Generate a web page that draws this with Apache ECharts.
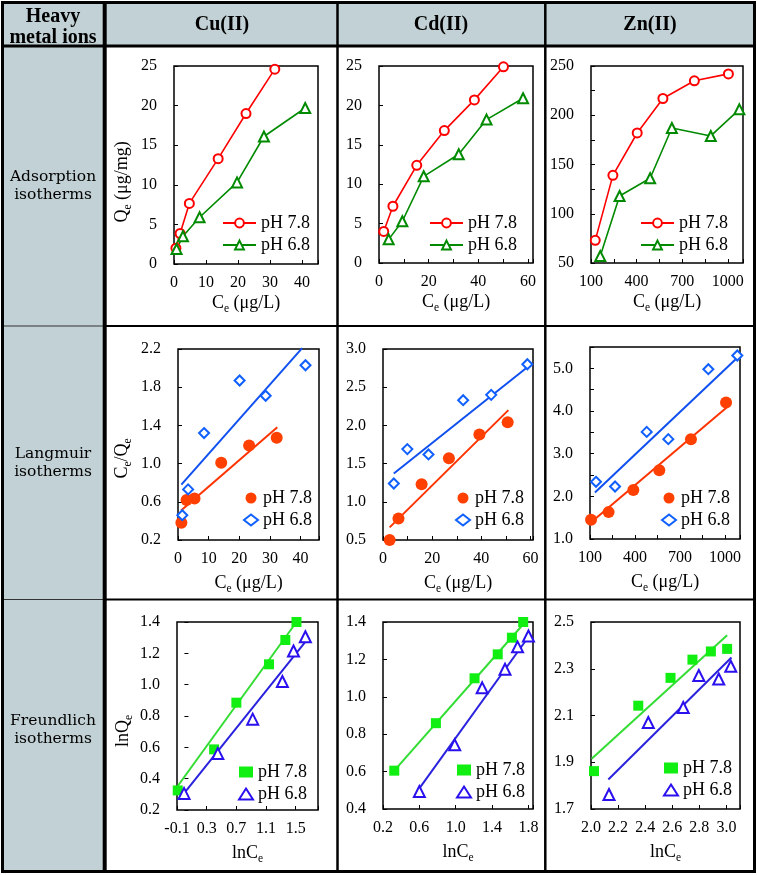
<!DOCTYPE html>
<html><head><meta charset="utf-8">
<script src="https://cdn.jsdelivr.net/npm/echarts@6/dist/echarts.min.js"></script>
<style>html,body{margin:0;padding:0;background:#fff}#c{width:757px;height:875px}</style>
</head><body><div id="c"></div>
<script>
// ---------- data ----------
const columnTitles = ['Cu(II)', 'Cd(II)', 'Zn(II)'];
const rowTitles = ['Adsorption\nisotherms', 'Langmuir\nisotherms', 'Freundlich\nisotherms'];
const legendNames = ['pH 7.8', 'pH 6.8'];

// Adsorption isotherms [Ce, Qe]
const cuAds78 = [[0.6,2.0],[1.9,3.85],[4.8,7.65],[13.8,13.3],[22.5,19.0],[31.5,24.6]];
const cuAds68 = [[0.8,1.9],[2.8,3.5],[8.0,5.9],[19.7,10.3],[28.1,16.1],[41.0,19.7]];
const cdAds78 = [[1.9,4.0],[5.6,7.2],[15.2,12.4],[26.3,16.8],[38.4,20.7],[50.1,24.9]];
const cdAds68 = [[3.9,3.0],[9.4,5.3],[18.0,11.0],[32.1,13.8],[43.3,18.2],[58.0,20.9]];
const znAds78 = [[128,73],[244,139],[404,182],[573,217],[780,235],[1004,242]];
const znAds68 = [[161,57],[288,118],[489,136],[632,187],[888,179],[1076,206]];

// Langmuir [Ce, Ce/Qe] and fitted line end points
const cuLang78 = [[1.1,0.38],[2.8,0.62],[5.4,0.635],[14.1,1.01],[23.2,1.19],[32.2,1.27]];
const cuLang68 = [[1.4,0.46],[3.3,0.73],[8.5,1.32],[20.1,1.87],[28.6,1.71],[41.6,2.03]];
const cuLangFit78 = [[1.0,0.51],[32.4,1.38]];
const cuLangFit68 = [[1.1,0.78],[40.5,2.21]];
const cdLang78 = [[2.7,0.5],[6.3,0.78],[15.7,1.23],[26.8,1.57],[39.2,1.88],[50.7,2.04]];
const cdLang68 = [[4.4,1.24],[9.9,1.69],[18.5,1.62],[32.6,2.33],[44.0,2.40],[58.7,2.80]];
const cdLangFit78 = [[2.7,0.665],[51.0,2.2]];
const cdLangFit68 = [[4.4,1.37],[58.8,2.765]];
const znLang78 = [[107,1.45],[224,1.63],[389,2.15],[562,2.61],[773,3.34],[1007,4.20]];
const znLang68 = [[140,2.34],[267,2.23],[478,3.51],[622,3.34],[889,4.98],[1082,5.30]];
const znLangFit78 = [[100,1.37],[1011,4.08]];
const znLangFit68 = [[133,2.09],[1089,5.27]];

// Freundlich [lnCe, lnQe] and fitted line end points
const cuFr78 = [[-0.09,0.325],[0.40,0.587],[0.70,0.885],[1.14,1.13],[1.36,1.285],[1.51,1.40]];
const cuFr68 = [[-0.005,0.306],[0.45,0.56],[0.92,0.78],[1.32,1.02],[1.47,1.215],[1.63,1.306]];
const cuFrFit78 = [[-0.09,0.353],[1.51,1.40]];
const cuFrFit68 = [[-0.035,0.289],[1.64,1.279]];
const cdFr78 = [[0.324,0.605],[0.782,0.859],[1.207,1.099],[1.462,1.227],[1.618,1.316],[1.742,1.40]];
const cdFr68 = [[0.6,0.493],[0.989,0.743],[1.291,1.048],[1.542,1.147],[1.68,1.267],[1.80,1.325]];
const cdFrFit78 = [[0.324,0.605],[1.735,1.384]];
const cdFrFit68 = [[0.6,0.51],[1.807,1.325]];
const znFr78 = [[2.022,1.862],[2.349,2.142],[2.587,2.261],[2.749,2.339],[2.885,2.374],[3.005,2.385]];
const znFr68 = [[2.133,1.762],[2.423,2.07],[2.681,2.134],[2.796,2.271],[2.943,2.256],[3.032,2.311]];
const znFrFit78 = [[2.005,1.915],[3.005,2.443]];
const znFrFit68 = [[2.128,1.826],[3.037,2.348]];

// ---------- layout / style ----------
const SERIF = '"Liberation Serif", "Times New Roman", serif';
const BG = '#c2d1d5';

function ax(min, max, interval, step, base, dec, lmax) {
  return {min, max, interval, step, base, dec, lmax};
}
const panels = [
  {kind:'ads', box:[174,66,144,198], x:ax(0,45,10,10,0,0,40), y:ax(0,25,5,5,0,0,25), a:cuAds78, b:cuAds68,
   yName:'Q{e|e} (μg/mg)', yGap:40, yShift:34, xName:'C{e|e} (μg/L)', xGap:28, leg:[222,214]},
  {kind:'ads', box:[379,66,154,197], x:ax(0,62,10,20,0,0,60), y:ax(0,25,5,5,0,0,25), a:cdAds78, b:cdAds68,
   xName:'C{e|e} (μg/L)', xGap:28, leg:[429,214]},
  {kind:'ads', box:[591,66,152,197], x:ax(100,1100,150,300,100,0,1000), y:ax(50,250,25,50,50,0,250), a:znAds78, b:znAds68,
   xName:'C{e|e} (μg/L)', xGap:28, leg:[640,214]},
  {kind:'lang', box:[178,349,141,191], x:ax(0,46,10,10,0,0,40), y:ax(0.2,2.2,0.4,0.4,0.2,1,2.2), a:cuLang78, b:cuLang68, fa:cuLangFit78, fb:cuLangFit68,
   yName:'C{e|e}/Q{e|e}', yGap:44, yShift:28, xName:'C{e|e} (μg/L)', xGap:32, leg:[243,489]},
  {kind:'lang', box:[383,349,150,191], x:ax(0,61,10,20,0,0,60), y:ax(0.5,3.0,0.5,0.5,0.5,1,3.0), a:cdLang78, b:cdLang68, fa:cdLangFit78, fb:cdLangFit68,
   xName:'C{e|e} (μg/L)', xGap:32, leg:[455,489]},
  {kind:'lang', box:[590,347,150,192], x:ax(100,1100,150,300,100,0,1000), y:ax(1.0,5.5,0.5,1.0,1.0,1,5.0), a:znLang78, b:znLang68, fa:znLangFit78, fb:znLangFit68,
   xName:'C{e|e} (μg/L)', xGap:32, leg:[661,489]},
  {kind:'fr', box:[177,622,141,188], x:ax(-0.1,1.8,0.4,0.4,-0.1,1,1.5), y:ax(0.2,1.4,0.2,0.2,0.2,1,1.4), a:cuFr78, b:cuFr68, fa:cuFrFit78, fb:cuFrFit68,
   yName:'lnQ{e|e}', yGap:42, yShift:30, xName:'lnC{e|e}', xGap:32, leg:[238,763]},
  {kind:'fr', box:[383,622,150,187], x:ax(0.2,1.85,0.4,0.4,0.2,1,1.8), y:ax(0.4,1.4,0.2,0.2,0.4,1,1.4), a:cdFr78, b:cdFr68, fa:cdFrFit78, fb:cdFrFit68,
   xName:'lnC{e|e}', xGap:32, leg:[456,761]},
  {kind:'fr', box:[591,622,149,187], x:ax(2.0,3.1,0.2,0.2,2.0,1,3.0), y:ax(1.7,2.5,0.2,0.2,1.7,1,2.5), a:znFr78, b:znFr68, fa:znFrFit78, fb:znFrFit68,
   xName:'lnC{e|e}', xGap:32, leg:[663,759]}
];

const styles = {
  ads:  {a:{sym:'emptyCircle', size:9, color:'#ff0000'}, b:{sym:'emptyTriangle', size:10, color:'#008a00'}},
  lang: {a:{sym:'circle', size:12, color:'#ff4000'}, b:{sym:'emptyDiamond', size:10, color:'#1060ff'}, fa:'#ff3300', fb:'#1050f0'},
  fr:   {a:{sym:'rect', size:10, color:'#11ee11'}, b:{sym:'emptyTriangle', size:11, color:'#2a10ee'}, fa:'#33dd33', fb:'#2a22dd'}
};

function nameStyle(shift) {
  return {
    fontSize: 18, fontFamily: SERIF, color: '#000', lineHeight: 23,
    padding: shift ? [0, shift, 0, 0] : 0,
    rich: { e: { fontSize: 11.5, fontFamily: SERIF, color: '#000', lineHeight: 12, verticalAlign: 'bottom' } }
  };
}

function fmt(s) {
  return function (v) {
    const k = (v - s.base) / s.step;
    if (Math.abs(k - Math.round(k)) > 1e-6 || v > s.lmax + 1e-9) return '';
    return v.toFixed(s.dec);
  };
}
function axis(s, gi, margin, extra) {
  return Object.assign({
    type: 'value', gridIndex: gi, min: s.min, max: s.max, interval: s.interval,
    axisLine: {show: false},
    axisTick: {show: true, inside: true, length: 4, lineStyle: {color: '#000', width: 1}},
    splitLine: {show: false},
    axisLabel: {fontSize: 16, fontFamily: SERIF, color: '#000', margin: margin, formatter: fmt(s)}
  }, extra);
}

const grid = [], xAxis = [], yAxis = [], series = [], legend = [];
panels.forEach(function (p, i) {
  const st = styles[p.kind];
  grid.push({left: p.box[0], top: p.box[1], width: p.box[2], height: p.box[3], show: true,
             borderColor: '#000', borderWidth: 1.5, backgroundColor: '#fff', containLabel: false});
  xAxis.push(axis(p.x, i, 11, {name: p.xName, nameLocation: 'middle', nameGap: p.xGap, nameTextStyle: nameStyle(0)}));
  yAxis.push(axis(p.y, i, 17, p.yName ? {name: p.yName, nameLocation: 'middle', nameGap: p.yGap, nameTextStyle: nameStyle(p.yShift)} : {}));
  const na = 'p' + i + 'a', nb = 'p' + i + 'b';
  if (p.kind === 'ads') {
    [['a', na, p.a], ['b', nb, p.b]].forEach(function (t) {
      const s = st[t[0]];
      series.push({type: 'line', name: t[1], xAxisIndex: i, yAxisIndex: i, data: t[2],
        symbol: s.sym, symbolSize: s.size, clip: false, animation: false,
        lineStyle: {color: s.color, width: 1.6}, itemStyle: {color: s.color, borderColor: s.color, borderWidth: 1.3}});
    });
  } else {
    [['fa', p.fa], ['fb', p.fb]].forEach(function (t) {
      series.push({type: 'line', xAxisIndex: i, yAxisIndex: i, data: t[1], symbol: 'none', clip: false,
        animation: false, z: 2, lineStyle: {color: st[t[0]], width: 2}});
    });
    [['a', na, p.a], ['b', nb, p.b]].forEach(function (t) {
      const s = st[t[0]];
      series.push({type: 'scatter', name: t[1], xAxisIndex: i, yAxisIndex: i, data: t[2], z: 3,
        symbol: s.sym, symbolSize: s.size, clip: false, animation: false,
        itemStyle: {color: s.color, borderColor: s.color, borderWidth: s.sym.indexOf('empty') === 0 ? 1.4 : 0, opacity: 1}});
    });
  }
  legend.push({show: true, orient: 'vertical', left: p.leg[0], top: p.leg[1], padding: 0,
    itemWidth: p.kind === 'ads' ? 33 : 14, itemHeight: 11, itemGap: 4, selectedMode: false,
    data: [na, nb], formatter: function (n) { return n.slice(-1) === 'a' ? legendNames[0] : legendNames[1]; },
    textStyle: {fontSize: 18, fontFamily: SERIF, color: '#000'}});
});

// table frame
const graphic = [
  {type: 'rect', z: -10, silent: true, shape: {x: 2, y: 2, width: 753, height: 45}, style: {fill: BG}},
  {type: 'rect', z: -10, silent: true, shape: {x: 2, y: 47, width: 102, height: 825}, style: {fill: BG}},
  {type: 'line', z: 100, silent: true, shape: {x1: 104, y1: 326, x2: 755, y2: 326}, style: {stroke: '#000', lineWidth: 2}},
  {type: 'line', z: 100, silent: true, shape: {x1: 104, y1: 599.5, x2: 755, y2: 599.5}, style: {stroke: '#000', lineWidth: 2}},
  {type: 'line', z: 100, silent: true, shape: {x1: 2, y1: 326, x2: 104, y2: 326}, style: {stroke: '#333', lineWidth: 1}},
  {type: 'line', z: 100, silent: true, shape: {x1: 2, y1: 599.5, x2: 104, y2: 599.5}, style: {stroke: '#333', lineWidth: 1}},
  {type: 'line', z: 100, silent: true, shape: {x1: 2, y1: 46, x2: 755, y2: 46}, style: {stroke: '#000', lineWidth: 3}},
  {type: 'line', z: 100, silent: true, shape: {x1: 104.7, y1: 2, x2: 104.7, y2: 872}, style: {stroke: '#000', lineWidth: 4}},
  {type: 'line', z: 100, silent: true, shape: {x1: 337.5, y1: 2, x2: 337.5, y2: 872}, style: {stroke: '#000', lineWidth: 2.5}},
  {type: 'line', z: 100, silent: true, shape: {x1: 545.3, y1: 2, x2: 545.3, y2: 872}, style: {stroke: '#000', lineWidth: 2.5}},
  {type: 'rect', z: 100, silent: true, shape: {x: 2.5, y: 2.5, width: 752, height: 869}, style: {fill: 'none', stroke: '#000', lineWidth: 3}}
];
const colCenters = [222, 441, 650];
columnTitles.forEach(function (t, i) {
  graphic.push({type: 'text', z: 101, silent: true, x: colCenters[i], y: 25,
    style: {text: t, font: 'bold 20px "Liberation Serif"', fill: '#000', align: 'center', verticalAlign: 'middle', textAlign: 'center', textVerticalAlign: 'middle'}});
});
graphic.push({type: 'text', z: 101, silent: true, x: 53, y: 27,
  style: {text: 'Heavy\nmetal ions', font: 'bold 20px "Liberation Serif"', lineHeight: 21, fill: '#000', align: 'center', verticalAlign: 'middle', textAlign: 'center', textVerticalAlign: 'middle'}});
const rowCenters = [186, 463, 730];
rowTitles.forEach(function (t, i) {
  graphic.push({type: 'text', z: 101, silent: true, x: 53, y: rowCenters[i],
    style: {text: t, font: '15.5px "DejaVu Serif"', lineHeight: 18, fill: '#000', align: 'center', verticalAlign: 'middle', textAlign: 'center', textVerticalAlign: 'middle'}});
});

const chart = echarts.init(document.getElementById('c'), null, {renderer: 'canvas'});
chart.setOption({animation: false, backgroundColor: '#fff', grid, xAxis, yAxis, series, legend, graphic});
</script></body></html>
